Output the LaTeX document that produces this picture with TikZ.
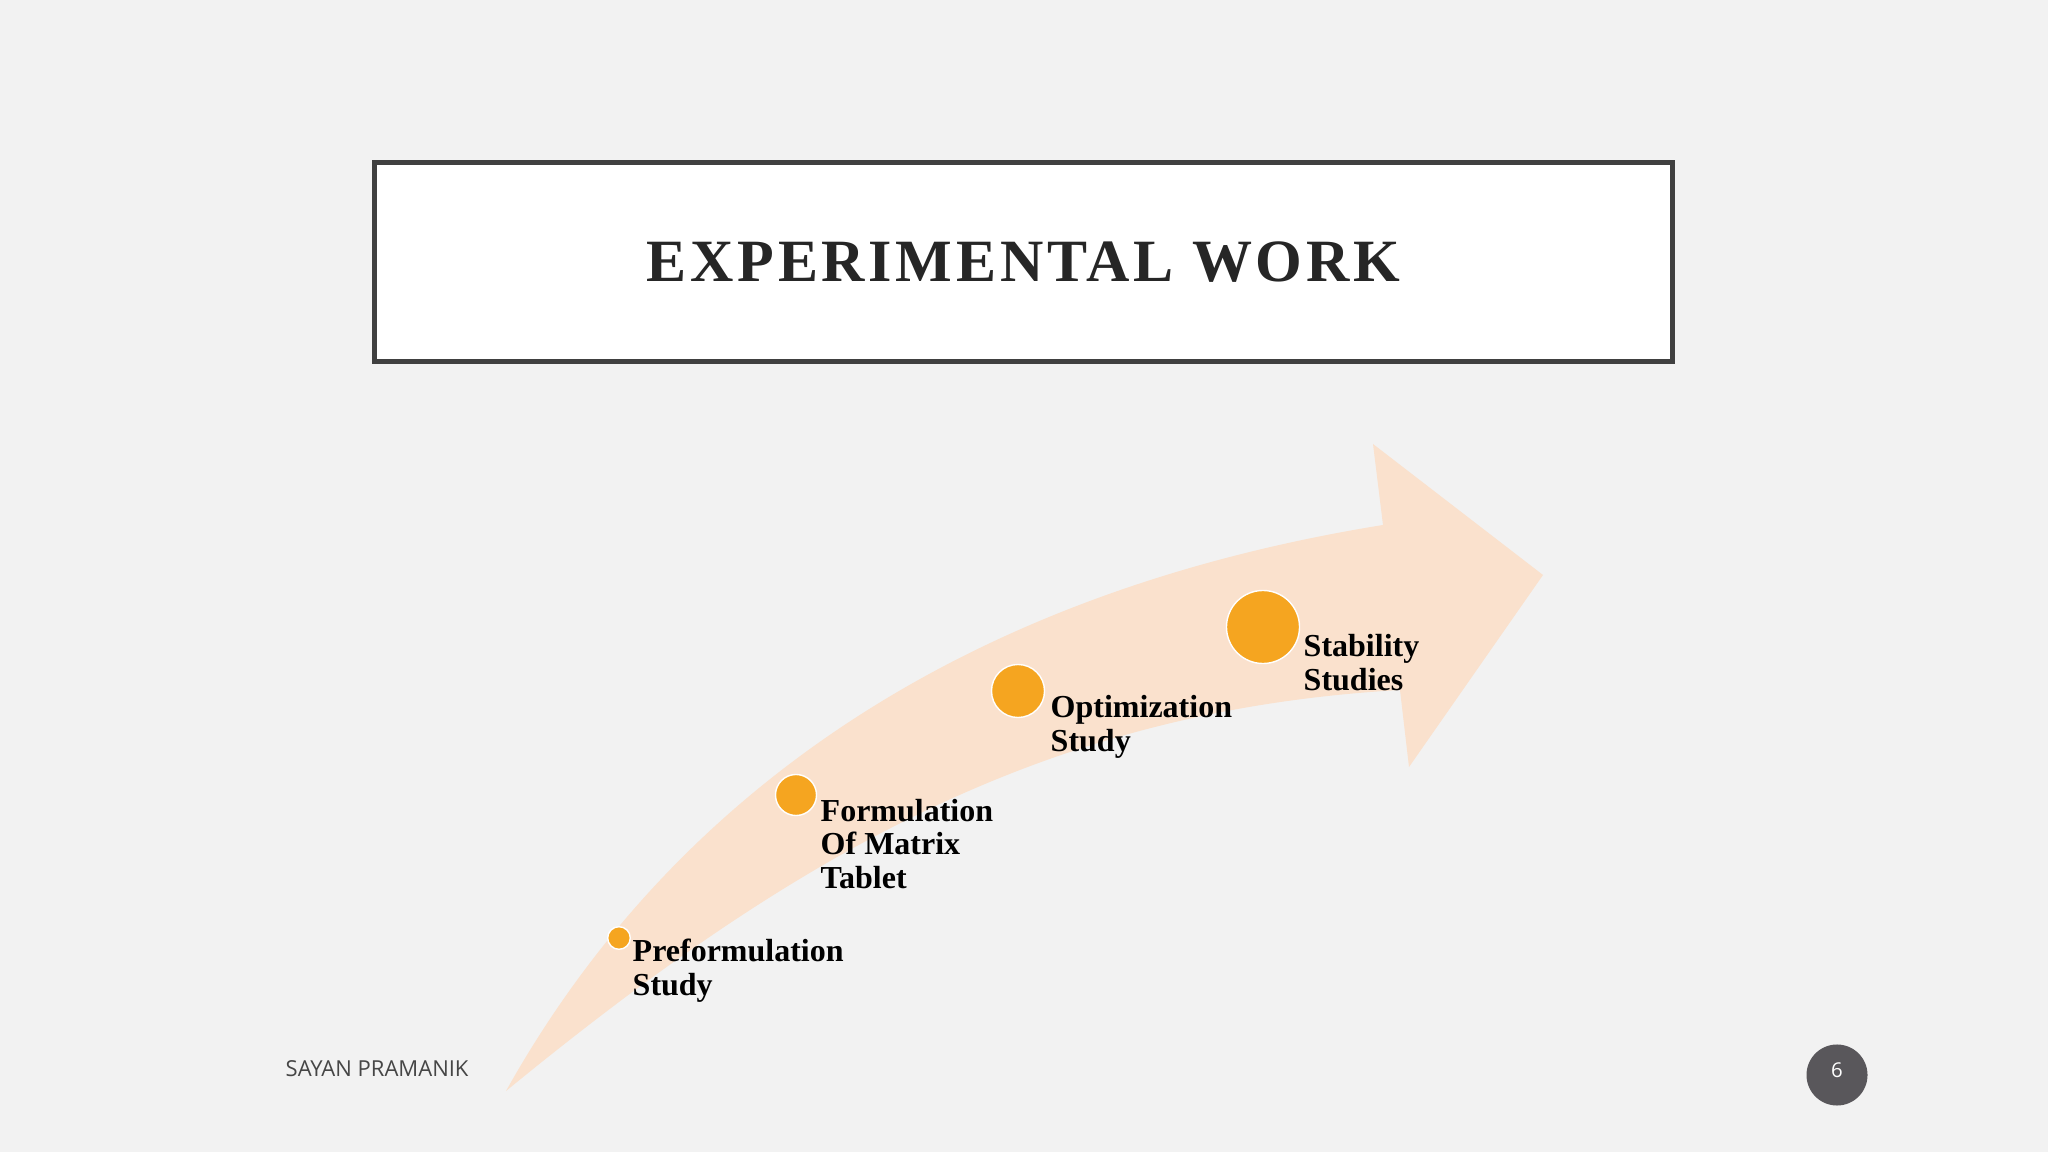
\documentclass[tikz,border=0pt]{standalone}
\usepackage{fontspec}
\setmainfont{Liberation Serif}
\newfontfamily\footfont{Open Sans}
\newfontfamily\titlefont[LetterSpace=6.2]{Liberation Serif}
\definecolor{slidebg}{RGB}{242,242,242}
\definecolor{boxgray}{RGB}{64,64,64}
\definecolor{titleink}{RGB}{38,38,38}
\definecolor{arrowpeach}{RGB}{250,225,205}
\definecolor{dotorange}{RGB}{245,165,32}
\definecolor{footgray}{RGB}{70,70,70}
\definecolor{pagegray}{RGB}{89,87,91}
\begin{document}
\begin{tikzpicture}[x=0.01cm,y=-0.01cm,
  dot/.style={circle,fill=dotorange,draw=white,line width=0.4pt,inner sep=0pt},
  stage/.style={anchor=base west,align=left,inner sep=0pt,
    font=\bfseries\fontsize{9.1}{9.5}\selectfont}]
\useasboundingbox[fill=slidebg] (0,0) rectangle (2048,1152);

% title
\node[draw=boxgray,line width=1.42pt,fill=white,minimum width=12.98cm,
  minimum height=1.99cm,text=titleink,
  font=\titlefont\bfseries\fontsize{17.07}{20}\selectfont]
  (title) at (1023.5,262) {EXPERIMENTAL WORK};

% the curved arrow
\fill[arrowpeach] (506,1091) .. controls (680,780) and (980,590) .. (1383,525)
  -- (1373,444) -- (1543,575) -- (1409,767) -- (1400,690)
  .. controls (1050,710) and (800,850) .. (506,1091) -- cycle;

% stages (labels sit on the baseline of their last line)
\node[dot,minimum size=0.226cm] (pre) at (619,938) {};
\node[dot,minimum size=0.41cm] (form) at (796,795) {};
\node[dot,minimum size=0.53cm] (opt) at (1018,691) {};
\node[dot,minimum size=0.73cm] (stab) at (1263,627) {};

\node[stage] (prelabel) at (632,995) {Preformulation\\Study};
\node[stage] (formlabel) at (820,888) {Formulation\\Of Matrix\\Tablet};
\node[stage] (optlabel) at (1050,751) {Optimization\\Study};
\node[stage] (stablabel) at (1303,690) {Stability\\Studies};

% footer
\node[anchor=base west,inner sep=0pt,text=footgray,
  font=\footfont\fontsize{6.26}{7}\selectfont] (author) at (285,1076) {SAYAN PRAMANIK};
\node[circle,fill=pagegray,minimum size=0.61cm,inner sep=0pt,text=white,
  text depth=2.85pt,font=\footfont\fontsize{5.8}{6}\selectfont] (page) at (1837,1075) {6};
\end{tikzpicture}
\end{document}
